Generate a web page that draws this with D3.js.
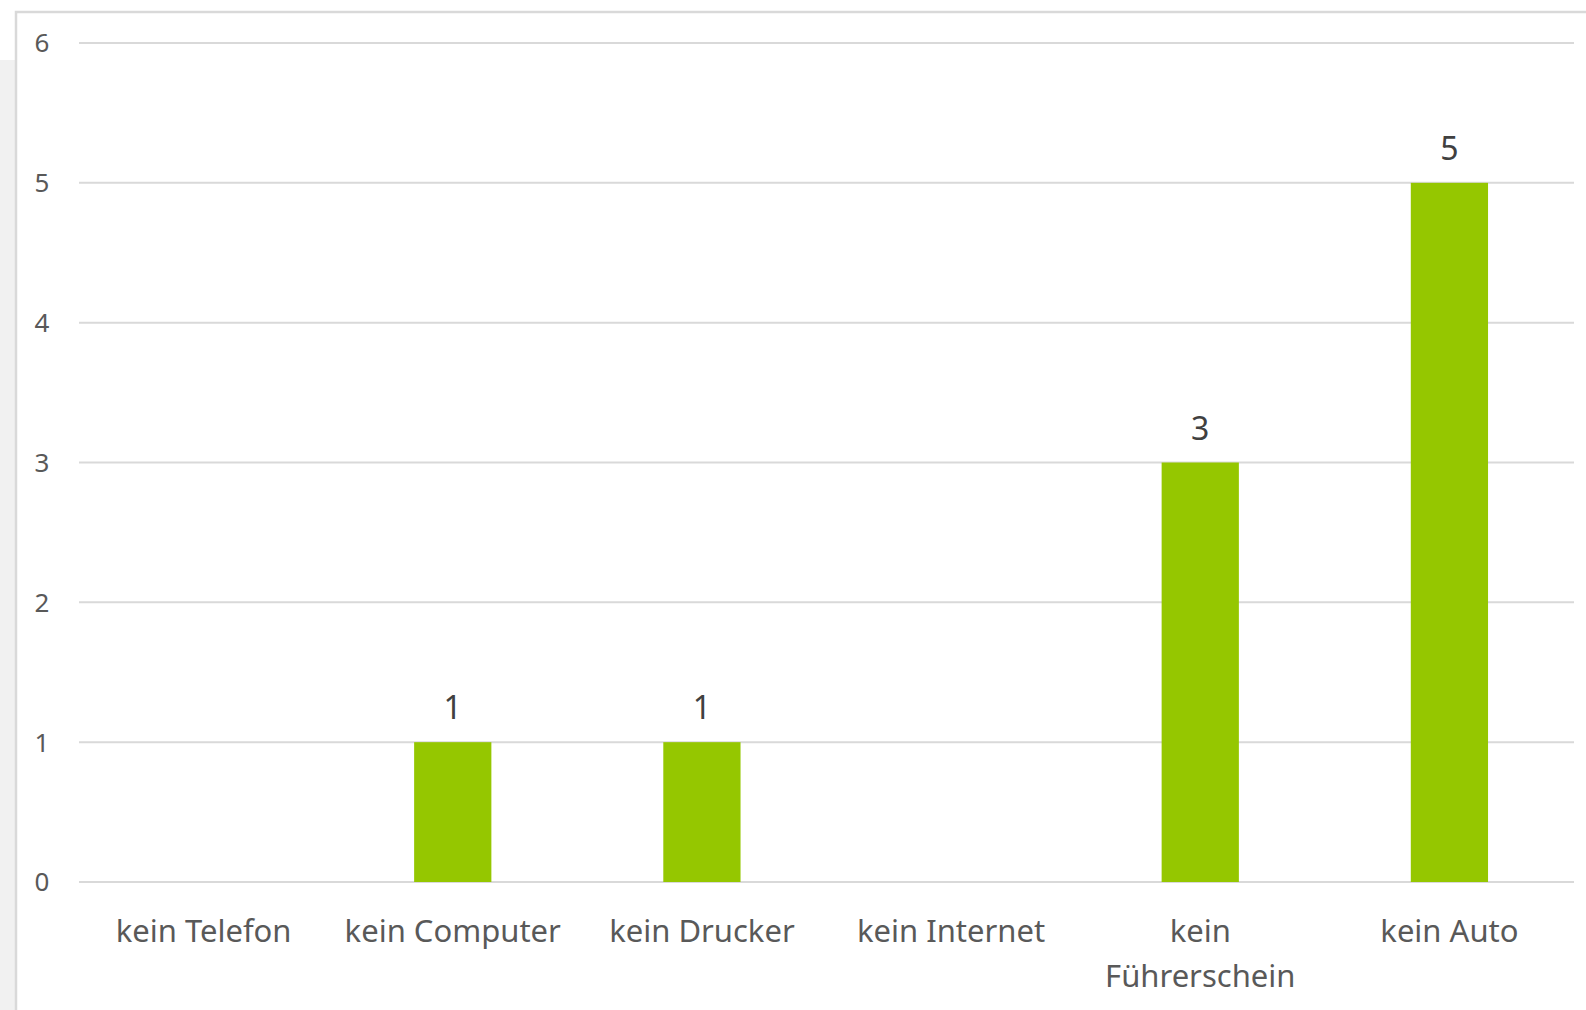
<!DOCTYPE html>
<html>
<head>
<meta charset="utf-8">
<script src="https://cdn.jsdelivr.net/npm/d3@7/dist/d3.min.js"></script>
<style>
  html, body { margin: 0; padding: 0; background: #fff; }
  svg { display: block; }
</style>
</head>
<body>
<svg id="chart" width="1586" height="1010"></svg>
<script>
var categories = ["kein Telefon", "kein Computer", "kein Drucker", "kein Internet", "kein Führerschein", "kein Auto"];
var labelLines = [["kein Telefon"], ["kein Computer"], ["kein Drucker"], ["kein Internet"], ["kein", "Führerschein"], ["kein Auto"]];
var values = [0, 1, 1, 0, 3, 5];
var yTicks = [0, 1, 2, 3, 4, 5, 6];

var svg = d3.select("#chart"),
    margin = { top: 43, right: 12, bottom: 128, left: 79 },
    width = +svg.attr("width") - margin.left - margin.right,
    height = +svg.attr("height") - margin.top - margin.bottom;

// faint backdrop on the left and the chart frame
svg.append("rect")
    .attr("x", 0).attr("y", 60)
    .attr("width", 15).attr("height", 950)
    .attr("fill", "#f1f1f1");
svg.append("path")
    .attr("d", "M16,1010 V12 H1586")
    .attr("fill", "none")
    .attr("stroke", "#d9d9d9")
    .attr("stroke-width", 2.5);

var x = d3.scaleBand().domain(categories).range([0, width]).padding(0),
    y = d3.scaleLinear().domain([0, 6]).range([height, 0]);

var barW = x.bandwidth() * 0.31;

var g = svg.append("g")
    .attr("transform", "translate(" + margin.left + "," + margin.top + ")");

g.selectAll(".grid")
    .data(yTicks)
    .enter().append("line")
    .attr("class", "grid")
    .attr("x1", 0).attr("x2", width)
    .attr("y1", function(d) { return y(d); })
    .attr("y2", function(d) { return y(d); })
    .attr("stroke", "#d9d9d9")
    .attr("stroke-width", 2);

g.selectAll(".ytick")
    .data(yTicks)
    .enter().append("text")
    .attr("class", "ytick")
    .attr("x", 42 - margin.left)
    .attr("y", function(d) { return y(d); })
    .attr("dy", "0.36em")
    .attr("text-anchor", "middle")
    .attr("font-family", "Noto Sans, sans-serif")
    .attr("font-size", 26)
    .attr("fill", "#595959")
    .text(function(d) { return d; });

g.selectAll(".bar")
    .data(values)
    .enter().append("rect")
    .attr("class", "bar")
    .attr("x", function(d, i) { return x(categories[i]) + x.bandwidth() / 2 - barW / 2; })
    .attr("y", function(d) { return y(d); })
    .attr("width", barW)
    .attr("height", function(d) { return height - y(d); })
    .attr("fill", "#95c700");

g.selectAll(".vlabel")
    .data(values.map(function(v, i) { return { v: v, c: categories[i] }; }).filter(function(d) { return d.v > 0; }))
    .enter().append("text")
    .attr("class", "vlabel")
    .attr("x", function(d) { return x(d.c) + x.bandwidth() / 2; })
    .attr("y", function(d) { return y(d.v) - 23; })
    .attr("text-anchor", "middle")
    .attr("font-family", "Noto Sans, sans-serif")
    .attr("font-size", 32)
    .attr("fill", "#404040")
    .text(function(d) { return d.v; });

var xl = g.selectAll(".xlabel")
    .data(categories)
    .enter().append("text")
    .attr("class", "xlabel")
    .attr("x", function(d) { return x(d) + x.bandwidth() / 2; })
    .attr("y", height + 60)
    .attr("text-anchor", "middle")
    .attr("font-family", "Noto Sans, sans-serif")
    .attr("font-size", 31)
    .attr("fill", "#595959");

xl.each(function(d, i) {
    var t = d3.select(this);
    labelLines[i].forEach(function(line, j) {
        t.append("tspan")
            .attr("x", x(d) + x.bandwidth() / 2)
            .attr("dy", j === 0 ? 0 : 45)
            .text(line);
    });
});
</script>
</body>
</html>
